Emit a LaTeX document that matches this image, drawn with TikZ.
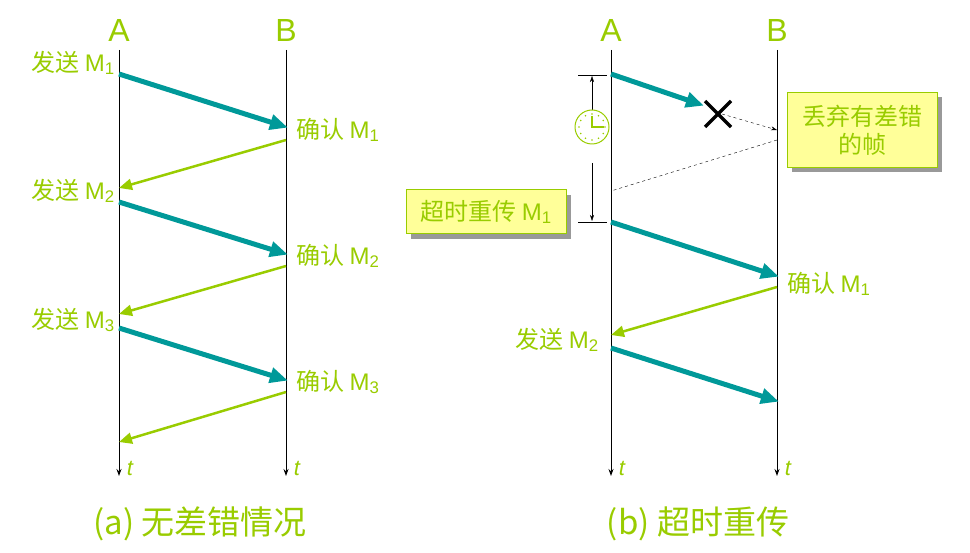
\documentclass[tikz,border=0pt]{standalone}
\usepackage{fontspec}
\setmainfont{Noto Sans CJK SC}
\newfontfamily\lat{Liberation Sans}
\usetikzlibrary{arrows.meta,shadows,calc}
\definecolor{teal1}{HTML}{009999}
\definecolor{lg}{HTML}{99CC00}
\definecolor{ybox}{HTML}{FFFF99}
\tikzset{
 life/.style={line width=1pt,-{Stealth[length=7pt,width=5pt]}},
 send/.style={teal1,line width=5pt,-{Triangle[length=18pt,width=15pt]},shorten >=-2pt},
 ack/.style={lg,line width=2.5pt,-{Triangle[length=13pt,width=11pt]}},
 lbl/.style={lg,font=\fontsize{24}{26}\selectfont,inner sep=1pt},
 head/.style={lg,font=\lat\fontsize{32}{34}\selectfont},
 captxt/.style={lg,font=\fontsize{33}{35}\selectfont},
 ybx/.style={draw=lg,fill=ybox,line width=1pt,drop shadow={shadow xshift=5pt,shadow yshift=-5pt,fill=gray!80,opacity=1},font=\fontsize{24}{28}\selectfont,text=lg,align=center},
 tt/.style={font=\lat\fontsize{22}{24}\selectfont\itshape,lg}
}
\begin{document}
\begin{tikzpicture}[x=1pt,y=-1pt]
\useasboundingbox (0,0) rectangle (970,553);
% ---- left
\node[head] (hA) at (119,30) {A};
\node[head] (hB) at (286,30) {B};
\coordinate (a0) at (119,50); \coordinate (a1) at (119,476);
\coordinate (b0) at (286,50); \coordinate (b1) at (286,476);
\draw[life] (a0)--(a1); \draw[life] (b0)--(b1);
\node[tt] (ta) at (130,468) {t}; \node[tt] (tb) at (297,468) {t};
\coordinate (s1) at (119,74); \coordinate (r1) at (286,127);
\coordinate (k1) at (286,140); \coordinate (q1) at (119,188);
\coordinate (s2) at (119,202); \coordinate (r2) at (286,254);
\coordinate (k2) at (286,266); \coordinate (q2) at (119,314);
\coordinate (s3) at (119,328); \coordinate (r3) at (286,380);
\coordinate (k3) at (286,392); \coordinate (q3) at (119,442);
\draw[send] (s1)--(r1); \draw[ack] (k1)--(q1);
\draw[send] (s2)--(r2); \draw[ack] (k2)--(q2);
\draw[send] (s3)--(r3); \draw[ack] (k3)--(q3);
\node[lbl,anchor=east] (ls1) at (116,63) {发送 \lat M\textsubscript{1}};
\node[lbl,anchor=east] (ls2) at (116,191) {发送 \lat M\textsubscript{2}};
\node[lbl,anchor=east] (ls3) at (116,320) {发送 \lat M\textsubscript{3}};
\node[lbl,anchor=west] (lr1) at (295,130) {确认 \lat M\textsubscript{1}};
\node[lbl,anchor=west] (lr2) at (295,256) {确认 \lat M\textsubscript{2}};
\node[lbl,anchor=west] (lr3) at (295,382) {确认 \lat M\textsubscript{3}};
\node[captxt] (capa) at (200,524) {(a) 无差错情况};
% ---- right
\node[head] (hA2) at (611,30) {A};
\node[head] (hB2) at (777,30) {B};
\coordinate (c0) at (611,50); \coordinate (c1) at (611,476);
\coordinate (d0) at (777,50); \coordinate (d1) at (777,476);
\draw[life] (c0)--(c1); \draw[life] (d0)--(d1);
\node[tt] (tc) at (622,468) {t}; \node[tt] (td) at (788,468) {t};
\coordinate (u1) at (611,74); \coordinate (x1) at (702,105);
\draw[send] (u1)--(x1);
\coordinate (X) at (718,114);
\draw[line width=3.2pt] ($(X)+(-13,-13)$)--($(X)+(13,13)$) ($(X)+(13,-13)$)--($(X)+(-13,13)$);
\coordinate (xb) at (777,130); \coordinate (xe) at (722,114);
\draw[dashed,-{Stealth[length=6pt,width=4pt]}] (xe)--(xb);
\coordinate (bb) at (777,140); \coordinate (ab) at (611,191);
\draw[dashed] (bb)--(ab);
\coordinate (t1a) at (578,75); \coordinate (t1b) at (607,75);
\coordinate (t2a) at (578,222); \coordinate (t2b) at (607,222);
\draw (t1a)--(t1b); \draw (t2a)--(t2b);
\coordinate (v1) at (592,110); \coordinate (v2) at (592,76);
\coordinate (v3) at (592,163); \coordinate (v4) at (592,221);
\draw[-{Stealth[length=6pt,width=4pt]}] (v1)--(v2);
\draw[-{Stealth[length=6pt,width=4pt]}] (v3)--(v4);
\node[circle,draw=lg,line width=1pt,minimum size=34pt,inner sep=0pt] (clk) at (592,127) {};
\draw[lg,line width=1.2pt] ($(clk)+(0,-11)$)--(clk.center)--($(clk)+(12,0)$);
\foreach \a in {0,30,...,330} \fill[lg] ($(clk)+(\a:13)$) circle (0.8);
\node[ybx,minimum width=150pt,minimum height=75pt,inner sep=2pt] (drop) at (862,130) {丢弃有差错\\的帧};
\node[ybx,minimum width=160pt,minimum height=44pt,inner sep=2pt] (to) at (486,212) {超时重传 \lat M\textsubscript{1}};
\coordinate (u2) at (611,222); \coordinate (r4) at (777,276);
\draw[send] (u2)--(r4);
\node[lbl,anchor=west] (lr4) at (786,284) {确认 \lat M\textsubscript{1}};
\coordinate (k4) at (777,287); \coordinate (q4) at (611,335);
\draw[ack] (k4)--(q4);
\node[lbl,anchor=east] (ls4) at (600,340) {发送 \lat M\textsubscript{2}};
\coordinate (u3) at (611,348); \coordinate (r5) at (777,401);
\draw[send] (u3)--(r5);
\node[captxt] (capb) at (698,524) {(b) 超时重传};
\end{tikzpicture}
\end{document}
